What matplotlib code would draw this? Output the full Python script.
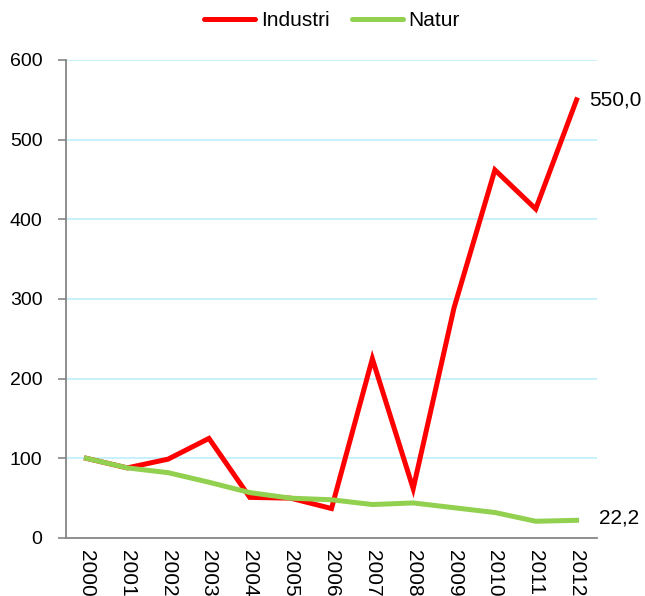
import matplotlib
matplotlib.use("Agg")
import matplotlib.pyplot as plt
from matplotlib.lines import Line2D

plt.rcParams['font.family'] = ['Liberation Sans', 'DejaVu Sans']

years = ['2000', '2001', '2002', '2003', '2004', '2005', '2006',
         '2007', '2008', '2009', '2010', '2011', '2012']
industri = [100, 88, 99, 125, 51, 50, 37, 225, 62, 289, 462, 413, 550.0]
natur = [100, 88, 82, 70, 57, 50, 48, 42, 44, 38, 32, 21, 22.2]
y_ticks = [0, 100, 200, 300, 400, 500, 600]

fig = plt.figure(figsize=(6.45, 5.96), dpi=100)
ax = fig.add_axes([66/645, 1-538/596, (597-66)/645, (538-60)/596])

x = list(range(len(years)))
red = '#ff0000'
green = '#92d050'
ax.plot(x, industri, color=red, lw=3.6, solid_joinstyle='miter', zorder=3)
ax.plot(x, natur, color=green, lw=3.6, solid_joinstyle='miter', zorder=4)

ax.set_xlim(-0.5, len(years) - 0.5)
ax.set_ylim(0, 600)
ax.set_yticks(y_ticks)
ax.set_yticklabels([str(v) for v in y_ticks], fontsize=14)
ax.set_xticks(x)
ax.set_xticklabels(years, rotation=-90, fontsize=15, va='top', ha='center')
ax.tick_params(axis='x', length=0, pad=9)
ax.tick_params(axis='y', length=6, width=1.2, color='#868686', pad=11)

for v in y_ticks[1:]:
    ax.axhline(v, color='#c4f0fc', lw=1.3, zorder=1)

for s in ['top', 'right']:
    ax.spines[s].set_visible(False)
for s in ['left', 'bottom']:
    ax.spines[s].set_color('#868686')
    ax.spines[s].set_linewidth(1.3)

ax.annotate(f"{industri[-1]:.1f}".replace('.', ','), xy=(x[-1], industri[-1]),
            xytext=(9, 0), textcoords='offset points', fontsize=15,
            va='center', ha='left', annotation_clip=False)
ax.annotate(f"{natur[-1]:.1f}".replace('.', ','), xy=(x[-1], natur[-1]),
            xytext=(16, 2), textcoords='offset points', fontsize=15,
            va='center', ha='left', annotation_clip=False)

handles = [Line2D([], [], color=red, lw=3.6, solid_capstyle='round'),
           Line2D([], [], color=green, lw=3.6, solid_capstyle='round')]
fig.legend(handles, ['Industri', 'Natur'], loc='center', bbox_to_anchor=(332/645, 1-21/596),
           ncol=2, frameon=False, fontsize=15, handlelength=2.45, handletextpad=0.26,
           columnspacing=1.08, borderpad=0, borderaxespad=0)

fig.savefig('out.png', dpi=100)
